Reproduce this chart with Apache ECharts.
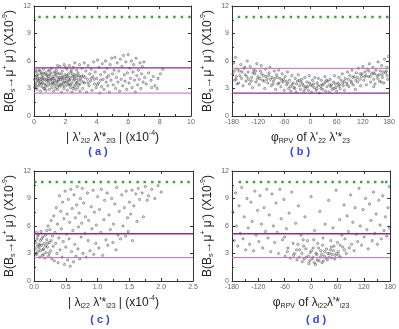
<!DOCTYPE html>
<html>
<head>
<meta charset="utf-8">
<script src="https://cdn.jsdelivr.net/npm/echarts@6/dist/echarts.min.js"></script>
<style>
  html, body { margin: 0; padding: 0; background: #fff; }
  #main { width: 399px; height: 329px; }
</style>
</head>
<body>
<div id="main"></div>
<script>
// scan points, panel (a): |lambda'222 lambda'*223| (x1e-4) vs branching ratio (x1e-9)
var pointsA = [
  [0.05,3.1],[0.1,4.2],[0.12,3.6],[0.15,4.8],[0.2,2.9],[0.22,3.9],[0.25,4.5],[0.3,3.3],[0.32,5.0],[0.35,4.1],[0.4,3.7],[0.42,2.7],[0.45,4.6],[0.5,3.2],[0.52,4.3],[0.55,3.9],[0.6,5.1],[0.62,3.0],[0.65,4.0],[0.7,3.5],[0.72,4.7],[0.75,2.8],[0.8,4.4],[0.82,3.8],[0.85,3.3],[0.9,4.9],[0.92,4.1],[0.95,3.6],[0.98,2.9],
  [1.02,4.5],[1.05,3.4],[1.1,4.0],[1.12,5.2],[1.15,3.1],[1.2,4.3],[1.22,3.7],[1.25,2.7],[1.3,4.8],[1.32,3.9],[1.35,3.3],[1.4,4.4],[1.42,5.0],[1.45,3.6],[1.5,2.9],[1.52,4.2],[1.55,3.8],[1.6,4.6],[1.62,3.2],[1.65,5.4],[1.7,4.0],[1.72,3.5],[1.75,2.6],[1.8,4.9],[1.82,3.9],[1.85,4.3],[1.9,3.0],[1.92,5.6],[1.95,3.7],[1.98,4.5],
  [2.02,3.3],[2.05,4.1],[2.1,5.1],[2.12,2.8],[2.15,3.8],[2.2,4.6],[2.22,3.4],[2.25,5.5],[2.3,4.0],[2.32,3.1],[2.35,4.8],[2.4,3.6],[2.42,2.6],[2.45,4.3],[2.5,5.3],[2.52,3.9],[2.55,3.2],[2.6,4.5],[2.65,2.9],[2.7,4.1],[2.72,5.0],[2.75,3.7],[2.8,4.7],[2.85,3.4],[2.9,5.6],[2.92,2.7],[2.95,4.2],
  [3.0,3.9],[3.05,5.2],[3.1,3.0],[3.15,4.4],[3.2,5.8],[3.22,3.6],[3.3,4.9],[3.35,2.6],[3.4,4.0],[3.45,5.5],[3.5,3.3],[3.55,4.6],[3.6,3.8],[3.65,5.1],[3.7,2.8],[3.75,4.3],[3.8,5.9],[3.85,3.5],[3.9,4.8],[3.95,3.1],
  [4.0,4.1],[4.05,6.1],[4.1,3.6],[4.15,5.3],[4.2,2.5],[4.25,4.5],[4.3,3.2],[4.35,5.7],[4.4,4.0],[4.45,2.9],[4.5,4.8],[4.55,6.0],[4.6,3.7],[4.65,5.2],[4.7,3.3],[4.75,4.4],[4.8,2.6],[4.85,5.6],[4.9,3.9],[4.95,6.3],
  [5.0,4.6],[5.05,3.4],[5.1,5.0],[5.15,6.4],[5.2,3.0],[5.25,4.2],[5.3,5.8],[5.35,3.7],[5.4,4.9],[5.45,2.7],[5.5,6.2],[5.55,4.0],[5.6,5.4],[5.65,3.3],[5.7,6.6],[5.75,4.5],[5.8,3.8],[5.85,5.9],[5.9,2.9],[5.95,4.7],
  [6.0,6.7],[6.05,3.6],[6.1,5.2],[6.15,4.1],[6.2,6.0],[6.25,3.1],[6.3,4.8],[6.35,5.6],[6.4,3.9],[6.45,2.6],[6.5,6.3],[6.55,4.4],[6.6,3.4],[6.65,5.0],[6.7,4.0],[6.75,5.8],[6.8,3.0],[6.85,4.6],[6.9,5.4],[6.95,3.7],[7.0,5.9],[7.05,4.2],
  [7.15,3.5],[7.3,4.7],[7.45,3.9],[7.5,3.1],[7.6,4.3],[7.7,3.3],[7.9,4.1],[8.05,4.6],[8.2,5.1],[7.85,3.0],
  [0.08,3.4],[0.18,4.4],[0.28,3.8],[0.38,4.9],[0.48,3.5],[0.58,4.2],[0.68,3.0],[0.78,4.0],[0.88,3.9],[1.08,4.7],[1.18,3.6],[1.28,4.1],[1.38,3.0],[1.48,4.7],[1.58,4.0],[1.68,3.4],[1.78,4.2],[1.88,3.6],[2.08,4.4],[2.18,3.5],[2.28,4.2],[2.38,5.0],[2.48,3.0],[2.58,4.0],[2.68,3.6],[2.78,3.1],[2.88,4.4],[0.1,5.0],[0.5,4.7],[1.0,5.0],[1.5,5.5],[2.0,5.3],[2.6,5.8],
  [0.03,4.0],[0.14,3.2],[0.24,4.1],[0.34,3.5],[0.44,4.0],[0.54,3.6],[0.64,4.6],[0.74,3.3],[0.84,4.5],[0.94,4.3],[1.04,3.9],[1.14,4.1],[1.24,3.5],[1.34,4.6],[1.44,3.8],[1.54,3.3],[1.64,4.2],[1.74,4.6],[1.84,3.3],[1.94,4.1],[2.04,3.7],[2.14,4.3],[2.24,3.9],[2.34,3.4],[2.44,4.6],[2.54,4.3],[2.64,3.4],[2.74,4.4],[2.84,3.9],[2.94,3.5],[3.04,4.3],[3.14,3.7],[3.24,4.2],[3.44,3.6],[3.64,4.1],[3.84,4.0],[4.04,3.4],[4.24,3.9],[4.64,4.2]
];

// panel (b): phase (deg) vs branching ratio
var pointsB = [
  [-178,4.6],[-176,5.8],[-174,3.9],[-172,6.4],[-170,4.3],[-168,5.1],[-165,3.6],[-163,4.9],[-160,5.6],[-158,4.1],[-155,3.3],[-153,5.2],[-150,4.5],[-148,3.8],[-145,6.0],[-143,4.8],[-140,3.5],[-138,5.4],[-135,4.2],[-133,3.1],[-130,5.0],[-128,4.6],[-125,3.7],[-123,5.7],[-120,4.3],
  [-118,3.4],[-115,4.9],[-113,5.5],[-110,3.9],[-108,4.4],[-105,3.0],[-103,5.1],[-100,4.0],[-98,3.6],[-95,4.7],[-93,5.3],[-90,3.3],[-88,4.2],[-85,3.8],[-83,4.9],[-80,2.9],[-78,4.5],[-75,3.5],[-73,5.0],[-70,4.1],[-68,3.2],[-65,4.6],[-63,3.7],[-60,2.8],
  [-58,4.3],[-55,3.4],[-53,4.8],[-50,3.0],[-48,3.9],[-45,2.7],[-43,4.4],[-40,3.6],[-38,3.1],[-35,4.1],[-33,2.6],[-30,3.8],[-28,4.5],[-25,3.3],[-23,2.9],[-20,4.0],[-18,3.5],[-15,2.7],[-13,4.2],[-10,3.2],[-8,3.7],[-5,2.8],[-3,4.4],[0,3.4],
  [2,2.6],[5,3.9],[8,3.1],[10,4.2],[13,2.8],[15,3.6],[18,4.1],[20,2.5],[23,3.3],[25,3.9],[28,2.9],[30,3.5],[33,4.3],[35,2.7],[38,3.2],[40,3.8],[43,2.6],[45,4.0],[48,3.4],[50,2.9],[53,3.7],[55,4.4],[58,3.1],[60,2.7],
  [63,3.6],[65,4.2],[68,3.0],[70,3.9],[73,4.6],[75,3.3],[78,2.8],[80,4.1],[83,3.6],[85,4.8],[88,3.2],[90,4.4],[93,3.8],[95,5.0],[98,3.4],[100,4.3],[103,2.9],[105,4.7],[108,3.7],[110,5.2],[113,4.0],[115,3.3],[118,4.6],[120,5.4],
  [122,3.9],[125,4.8],[128,3.4],[130,5.1],[133,4.3],[135,5.7],[138,3.7],[140,4.6],[143,5.3],[145,4.0],[148,3.5],[150,5.0],[153,4.4],[155,5.9],[158,3.8],[160,4.9],[163,5.5],[165,4.2],[168,3.6],[170,6.2],[172,4.7],[175,5.3],[177,4.0],[179,6.5],
  [-175,4.9],[-162,4.4],[-150,5.3],[-142,4.0],[-132,4.7],[-122,4.0],[-112,4.6],[-102,4.3],[-92,4.0],[-82,4.1],[-72,3.6],[-62,4.0],[-52,3.6],[-42,3.4],[-32,3.5],[-22,3.7],[-12,3.0],[-2,3.6],[7,3.5],[17,3.3],[27,3.4],[37,3.9],[47,3.2],[57,3.5],[67,3.4],[77,3.8],[87,4.0],[97,4.2],[107,4.2],[117,4.3],[127,4.4],[137,4.3],[147,4.6],[157,4.5],[167,4.8],[176,4.4],[-168,3.5],[162,3.7],[145,3.2],
  [-171,4.0],[-157,4.8],[-146,4.3],[-136,3.8],[-126,4.9],[-116,4.1],[-106,3.8],[-96,4.4],[-86,3.5],[-76,4.2],[-66,3.9],[-56,3.8],[-46,3.2],[-36,3.0],[-26,3.9],[-16,3.3],[-6,3.2],[4,3.3],[14,3.0],[24,3.0],[34,3.7],[44,3.4],[54,3.0],[64,3.3],[74,3.6],[84,3.4],[94,3.6],[104,3.9],[114,4.6],[124,4.3],[134,4.9],[144,4.7],[154,4.1],[164,4.5],[174,4.9]
];

// panel (c): |lambda_i22 lambda'*_i23| (x1e-4) vs branching ratio
var pointsC = [
  [0.02,3.5],[0.03,4.2],[0.04,2.9],[0.05,3.8],[0.05,4.6],[0.06,3.2],[0.07,5.1],[0.08,3.6],[0.08,4.0],[0.09,2.6],[0.1,4.4],[0.1,3.3],[0.11,5.4],[0.12,3.9],[0.13,2.8],[0.14,4.8],[0.15,3.5],[0.16,4.1],[0.17,2.5],[0.18,5.0],[0.19,3.1],[0.2,4.5],[0.21,3.7],[0.22,6.0],[0.23,2.7],[0.24,4.2],[0.25,5.6],[0.26,3.3],[0.27,6.6],[0.28,2.4],[0.29,4.9],[0.3,3.8],
  [0.31,7.1],[0.32,2.2],[0.33,5.3],[0.34,4.1],[0.35,8.0],[0.36,3.0],[0.37,6.2],[0.38,2.0],[0.39,4.7],[0.4,9.3],[0.41,3.4],[0.42,7.6],[0.43,5.7],[0.44,2.6],[0.45,8.6],[0.46,4.3],[0.47,6.8],[0.48,1.8],[0.49,9.8],[0.5,3.7],[0.51,5.1],[0.52,7.3],[0.53,2.3],[0.54,8.9],[0.55,4.6],[0.56,6.4],[0.57,1.6],[0.58,10.0],[0.59,3.2],[0.6,7.9],
  [0.61,5.5],[0.62,2.1],[0.63,9.4],[0.64,4.0],[0.65,6.9],[0.66,2.7],[0.67,8.3],[0.68,10.3],[0.69,3.5],[0.7,5.9],[0.71,7.4],[0.72,2.4],[0.73,9.0],[0.74,4.8],[0.75,6.3],[0.76,10.1],[0.77,3.0],[0.78,8.5],[0.8,5.2],[0.81,7.0],[0.82,2.6],[0.84,9.6],[0.85,4.4],[0.86,6.6],[0.88,3.3],[0.9,8.1],[0.91,5.7],[0.93,9.9],[0.94,2.9],[0.95,7.5],[0.97,4.1],[0.98,6.1],
  [1.0,9.2],[1.02,3.6],[1.03,7.8],[1.05,5.3],[1.06,10.0],[1.08,2.8],[1.1,6.7],[1.11,8.8],[1.13,4.5],[1.15,9.6],[1.16,3.9],[1.18,7.2],[1.2,5.6],[1.22,9.0],[1.24,4.2],[1.25,6.2],[1.27,8.4],[1.29,3.4],[1.3,10.2],[1.32,5.0],[1.34,7.6],[1.36,4.6],[1.38,9.4],[1.4,6.0],[1.42,8.0],[1.44,4.9],[1.45,9.8],[1.47,6.9],[1.48,5.4],
  [1.5,8.6],[1.52,7.3],[1.54,9.9],[1.55,4.4],[1.57,8.2],[1.6,9.5],[1.62,6.5],[1.64,10.1],[1.66,8.9],[1.7,9.6],[1.72,7.0],[1.75,10.3],[1.78,8.8],[1.8,9.3],[1.85,10.0],[1.9,9.0],[1.95,10.4],[2.0,9.7],
  [0.03,3.0],[0.06,4.9],[0.09,3.9],[0.12,4.6],[0.15,2.9],[0.18,3.8],[0.21,4.1],[0.24,3.0],[0.27,4.4],[0.14,3.4],[0.04,5.3],[0.2,5.5]
];

// panel (d): phase (deg) vs branching ratio
var pointsD = [
  [-178,7.5],[-175,4.4],[-172,9.6],[-170,6.0],[-167,3.8],[-164,8.2],[-161,5.2],[-158,10.2],[-155,4.6],[-152,7.0],[-149,3.4],[-146,9.0],[-143,5.8],[-140,4.0],[-137,8.6],[-134,6.5],[-131,3.3],[-128,9.8],[-125,5.0],[-122,7.7],[-119,4.3],[-116,9.3],[-113,6.2],[-110,3.6],[-107,8.0],[-104,5.4],[-101,10.0],[-98,4.7],[-95,7.2],[-92,3.2],[-89,9.5],[-86,6.0],[-83,4.2],[-80,8.5],[-77,5.3],[-74,3.0],[-71,10.0],[-68,6.8],[-65,4.5],[-62,8.9],[-59,2.7],[-56,5.7],[-53,3.6],[-50,7.4],[-47,2.5],[-44,9.7],[-41,4.1],[-38,3.0],[-35,6.3],[-32,2.3],[-29,8.2],[-26,3.4],[-23,5.0],[-20,2.1],[-17,3.8],[-14,7.0],[-11,2.6],[-8,4.4],[-5,1.9],[-2,3.1],
  [0,9.2],[2,2.4],[5,3.6],[8,5.5],[10,1.8],[13,2.9],[15,4.1],[18,2.2],[20,7.6],[22,3.3],[25,2.0],[27,4.7],[30,2.7],[32,6.2],[35,3.5],[37,2.3],[40,8.8],[42,3.0],[45,4.4],[47,2.5],[50,5.8],[52,3.8],[55,2.8],[57,9.9],[60,4.2],[62,3.2],[65,6.7],[67,2.6],[70,5.0],[72,3.7],[75,8.3],[77,4.6],[80,3.0],[82,7.1],[85,5.4],[87,3.6],[90,9.4],[92,4.0],[95,6.4],[98,3.3],[100,8.0],[103,5.1],[106,4.3],[109,10.1],[112,6.0],[115,3.9],[118,7.8],[121,4.8],[124,9.0],[127,5.6],[130,3.5],[133,8.4],[136,6.6],[139,4.4],[142,9.7],[145,5.2],[148,7.3],[151,4.0],[154,8.8],[157,6.1],[160,4.6],[163,9.3],[166,5.5],[169,7.0],[172,4.9],[175,8.0],[178,10.3],[179,5.8],
  [-40,2.8],[-33,3.4],[-27,2.6],[-21,3.0],[-16,2.4],[-12,3.5],[-6,2.7],[-3,2.2],[1,3.3],[4,2.6],[7,2.0],[11,3.0],[14,2.3],[17,3.6],[21,2.6],[24,2.9],[28,2.2],[31,3.2],[34,2.5],[38,3.0],[41,2.6],[44,3.4],[48,2.9],[51,3.3],[54,2.4],[58,3.0],[63,2.8],[-30,4.0],[-18,4.5],[6,4.5],[26,3.9],[46,3.7],[66,3.9],[-54,3.2],[-60,4.8],[76,3.4]
];

// green dotted line (upper experimental bound) x positions
var boundXA = [0.35,0.83,1.3,1.78,2.26,2.74,3.21,3.69,4.17,4.64,5.12,5.6,6.08,6.55,7.03,7.51,7.98,8.46,8.94,9.42,9.9];
var boundXB = [-164,-147,-130,-113,-96,-79,-62,-45,-28,-11,6,23,40,57,74,91,108,125,142,159,176];
var boundXC = [0.02,0.13,0.25,0.36,0.48,0.59,0.71,0.82,0.94,1.05,1.17,1.28,1.4,1.51,1.63,1.74,1.86,1.97,2.09,2.2,2.32,2.43];
var boundXD = [-162,-146,-130,-114,-97,-81,-65,-49,-32,-16,0,16,33,49,65,81,98,114,130,146,162,171];
var boundY = 10.8;

// SM band (purple lines)
var bandA = [5.25, 2.5];
var bandB = [5.2, 2.5];
var bandC = [5.15, 2.55];
var bandD = [5.15, 2.55];

var yTicks = [0, 3, 6, 9, 12];
var xRangeA = [0, 10, 2];
var xRangeB = [-180, 180, 60];
var xRangeC = [0, 2.5, 0.5];
var xRangeD = [-180, 180, 60];

var panels = [
  { grid: { left: 34, top: 6, width: 157, height: 110 }, pts: pointsA, bx: boundXA, band: bandA, xr: xRangeA, dec: 0, upperDark: true,
    xname: '{a|| λ\'}{sub|2l2}{a| λ\'*}{sub|2l3}{a| | (x10}{sup|-4}{a|)}', tag: '( a )', tagPos: [98, 152] },
  { grid: { left: 232, top: 6, width: 157, height: 110 }, pts: pointsB, bx: boundXB, band: bandB, xr: xRangeB, dec: 0, upperDark: false,
    xname: '{a|φ}{sub|RPV}{a| of λ\'}{sub|22}{a| λ\'*}{sub|23}', tag: '( b )', tagPos: [300, 152] },
  { grid: { left: 34, top: 171, width: 159, height: 110 }, pts: pointsC, bx: boundXC, band: bandC, xr: xRangeC, dec: 1, upperDark: true,
    xname: '{a|| λ}{sub|i22}{a| λ\'*}{sub|i23}{a| | (x10}{sup|-4}{a|)}', tag: '( c )', tagPos: [100, 320] },
  { grid: { left: 232, top: 171, width: 161, height: 110 }, pts: pointsD, bx: boundXD, band: bandD, xr: xRangeD, dec: 0, upperDark: true,
    xname: '{a|φ}{sub|RPV}{a| of λ}{sub|i22}{a|λ\'*}{sub|i23}', tag: '( d )', tagPos: [316, 320] }
];

var yNameRich = '{a|B(B}{sub|s}{a|→μ}{sup|+}{a| μ}{sup|-}{a|) (X10}{sup|-9}{a|)}';

var richStyle = {
  a: { fontSize: 12, color: '#222', lineHeight: 15, verticalAlign: 'middle', fontFamily: 'Liberation Sans' },
  sub: { fontSize: 7, color: '#222', lineHeight: 15, verticalAlign: 'bottom', padding: [4, 0, 0, 0], fontFamily: 'Liberation Sans' },
  sup: { fontSize: 7, color: '#222', lineHeight: 15, verticalAlign: 'top', padding: [0, 0, 4, 0], fontFamily: 'Liberation Sans' }
};

var darkPurple = '#8e2a8e';
var lightPurple = '#c466c4';
var axisCol = '#333';

var grids = [], xAxes = [], yAxes = [], series = [], graphics = [];

panels.forEach(function (p, i) {
  grids.push(Object.assign({ containLabel: false }, p.grid));
  var xi = xAxes.length;
  xAxes.push({
    type: 'value', gridIndex: i, min: p.xr[0], max: p.xr[1], interval: p.xr[2],
    name: p.xname, nameLocation: 'middle', nameGap: 14,
    nameTextStyle: { rich: richStyle },
    axisLine: { show: true, onZero: false, lineStyle: { color: axisCol, width: 1 } },
    axisTick: { inside: true, length: 3, lineStyle: { color: axisCol } },
    minorTick: { show: true, splitNumber: 2, length: 2, lineStyle: { color: axisCol } },
    axisLabel: { fontSize: 7, color: '#666', margin: 3, fontFamily: 'Liberation Sans',
      formatter: function (v) { return p.dec ? v.toFixed(p.dec) : String(v); } },
    splitLine: { show: false }
  });
  xAxes.push({
    type: 'value', gridIndex: i, position: 'top', min: p.xr[0], max: p.xr[1], interval: p.xr[2],
    axisLine: { show: true, onZero: false, lineStyle: { color: axisCol, width: 1 } },
    axisTick: { inside: true, length: 3, lineStyle: { color: axisCol } },
    axisLabel: { show: false }, splitLine: { show: false }
  });
  var yi = yAxes.length;
  yAxes.push({
    type: 'value', gridIndex: i, min: 0, max: 12, interval: 3,
    name: yNameRich, nameLocation: 'middle', nameGap: 17, nameRotate: 90,
    nameTextStyle: { rich: richStyle },
    axisLine: { show: true, onZero: false, lineStyle: { color: axisCol, width: 1 } },
    axisTick: { inside: true, length: 3, lineStyle: { color: axisCol } },
    minorTick: { show: true, splitNumber: 2, length: 2, lineStyle: { color: axisCol } },
    axisLabel: { fontSize: 7, color: '#666', margin: 3, fontFamily: 'Liberation Sans',
      formatter: function (v) { return yTicks.indexOf(v) >= 0 ? String(v) : ''; } },
    splitLine: { show: false }
  });
  yAxes.push({
    type: 'value', gridIndex: i, position: 'right', min: 0, max: 12, interval: 3,
    axisLine: { show: true, onZero: false, lineStyle: { color: axisCol, width: 1 } },
    axisTick: { inside: true, length: 3, lineStyle: { color: axisCol } },
    axisLabel: { show: false }, splitLine: { show: false }
  });

  series.push({
    type: 'scatter', xAxisIndex: xi, yAxisIndex: yi, data: p.pts,
    symbol: 'circle', symbolSize: 2.3, silent: true,
    itemStyle: { color: 'rgba(120,120,120,0.25)', borderColor: 'rgba(50,50,50,0.8)', borderWidth: 0.7 }
  });
  var top = p.band[0], bot = p.band[1];
  series.push({
    type: 'line', xAxisIndex: xi, yAxisIndex: yi, symbol: 'none', silent: true,
    data: [[p.xr[0], top], [p.xr[1], top]],
    lineStyle: { color: p.upperDark ? darkPurple : lightPurple, width: p.upperDark ? 1.4 : 1 }
  });
  series.push({
    type: 'line', xAxisIndex: xi, yAxisIndex: yi, symbol: 'none', silent: true,
    data: [[p.xr[0], bot], [p.xr[1], bot]],
    lineStyle: { color: p.upperDark ? lightPurple : darkPurple, width: p.upperDark ? 1 : 1.4 }
  });
  series.push({
    type: 'scatter', xAxisIndex: xi, yAxisIndex: yi, silent: true,
    data: p.bx.map(function (x) { return [x, boundY]; }),
    symbol: 'rect', symbolSize: 2.5, itemStyle: { color: '#0f8f0f' }
  });

  graphics.push({
    type: 'text', x: p.tagPos[0], y: p.tagPos[1],
    style: { text: p.tag, fill: '#3344ee', font: 'bold 11px Liberation Sans', textAlign: 'center', textVerticalAlign: 'middle' }
  });
});

var myChart = echarts.init(document.getElementById('main'), null, { renderer: 'canvas' });
myChart.setOption({
  animation: false,
  backgroundColor: '#fff',
  grid: grids,
  xAxis: xAxes,
  yAxis: yAxes,
  series: series,
  graphic: graphics
});
</script>
</body>
</html>
